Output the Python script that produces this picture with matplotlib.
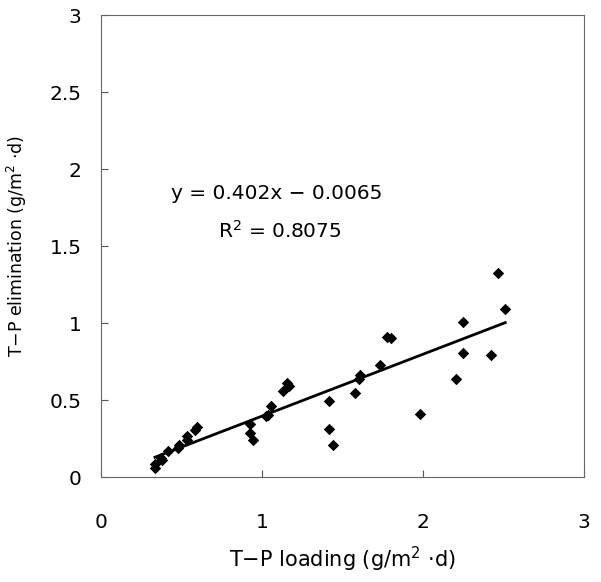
import matplotlib.pyplot as plt
import numpy as np

plt.rcParams['font.family'] = ['DejaVu Sans']

# T-P loading vs T-P elimination (g/m2.d)
loading = [0.335, 0.335, 0.373, 0.38, 0.414, 0.476, 0.484, 0.536, 0.536, 0.584, 0.594,
           0.925, 0.925, 0.944, 1.025, 1.04, 1.054, 1.13, 1.157, 1.17,
           1.414, 1.414, 1.44, 1.58, 1.60, 1.606, 1.733, 1.775, 1.803, 1.98,
           2.206, 2.247, 2.247, 2.419, 2.464, 2.51]
elimination = [0.056, 0.082, 0.121, 0.11, 0.171, 0.186, 0.21, 0.24, 0.266, 0.305, 0.327,
               0.342, 0.284, 0.24, 0.396, 0.40, 0.461, 0.558, 0.612, 0.59,
               0.495, 0.31, 0.208, 0.546, 0.634, 0.661, 0.727, 0.909, 0.90, 0.409,
               0.639, 1.006, 0.803, 0.79, 1.324, 1.094]

slope = 0.402
intercept = -0.0065
r2 = 0.8075

fig = plt.figure(figsize=(6.01, 5.82), dpi=100)
ax = fig.add_axes([0.168, 0.1804, 0.804, 0.7938])

ax.scatter(loading, elimination, marker='D', s=34, color='black', zorder=3, linewidths=0)
xf = np.array([min(loading), max(loading)])
ax.plot(xf, slope * xf + intercept, color='black', lw=2, zorder=2)

ax.set_xlim(0, 3)
ax.set_ylim(0, 3)
ax.set_xticks([0, 1, 2, 3])
ax.set_xticklabels(['0', '1', '2', '3'])
ax.set_yticks([0, 0.5, 1, 1.5, 2, 2.5, 3])
ax.set_yticklabels(['0', '0.5', '1', '1.5', '2', '2.5', '3'])
ax.tick_params(direction='in', length=5, width=0.8, color='#555555',
               labelsize=14.5, pad=14)
ax.tick_params(axis='x', pad=26)
for s in ax.spines.values():
    s.set_color('#666666')
    s.set_linewidth(0.8)

ax.set_xlabel('T\u2212P loading (g/m$^2$ \u00b7d)', fontsize=15, labelpad=9)
ax.set_ylabel('T\u2212P elimination (g/m$^2$ \u00b7d)', fontsize=12.5, labelpad=15)

ax.text(1.09, 1.84, 'y = 0.402x \u2212 0.0065', fontsize=14.5, ha='center', va='center')
ax.text(1.11, 1.60, 'R$^2$ = 0.8075', fontsize=14.5, ha='center', va='center')

fig.savefig('out.png', dpi=100)
